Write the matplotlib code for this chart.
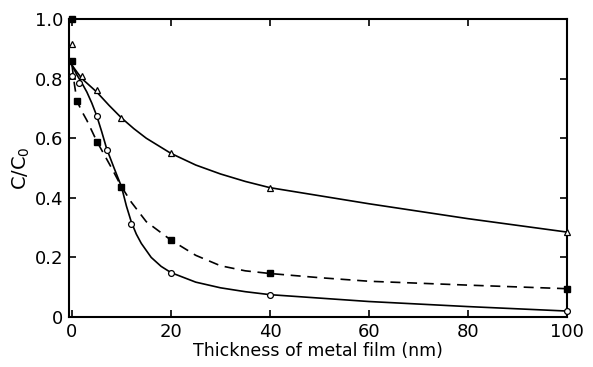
import matplotlib
matplotlib.use("Agg")
import matplotlib.pyplot as plt

tri_x = [0, 2, 5, 10, 20, 40, 100]
tri_y = [0.915, 0.81, 0.763, 0.668, 0.549, 0.434, 0.285]

circ_x = [0, 1.5, 5, 7, 12, 20, 40, 100]
circ_y = [0.81, 0.786, 0.675, 0.559, 0.312, 0.149, 0.075, 0.02]

sq_x = [0, 0, 1, 5, 10, 20, 40, 100]
sq_y = [1.0, 0.86, 0.725, 0.586, 0.437, 0.26, 0.149, 0.095]

# hand-drawn fit curves (knots)
tri_cx = [0, 1, 2, 3, 5, 7.5, 10, 12.5, 15, 20, 25, 30, 35, 40, 60, 80, 100]
tri_cy = [0.845, 0.822, 0.80, 0.785, 0.755, 0.71, 0.668, 0.632, 0.60, 0.549, 0.51, 0.48, 0.455, 0.434, 0.38, 0.33, 0.285]

circ_cx = [0, 1, 2, 3, 4, 5, 6, 7, 8.5, 10, 11, 12, 13, 14, 16, 18, 20, 25, 30, 35, 40, 60, 80, 100]
circ_cy = [0.845, 0.812, 0.785, 0.755, 0.718, 0.675, 0.622, 0.565, 0.50, 0.437, 0.372, 0.318, 0.278, 0.247, 0.20, 0.17, 0.149, 0.117, 0.098, 0.085, 0.075, 0.052, 0.035, 0.02]

sq_cx = [0, 0.5, 1, 2, 3, 5, 8, 10, 12, 15, 20, 25, 30, 35, 40, 50, 60, 80, 100]
sq_cy = [0.845, 0.78, 0.725, 0.69, 0.66, 0.59, 0.50, 0.437, 0.385, 0.32, 0.258, 0.207, 0.172, 0.155, 0.146, 0.132, 0.12, 0.107, 0.095]

fig = plt.figure(figsize=(5.93, 3.67), dpi=100)
ax = fig.add_axes([0.1164, 0.1362, 0.8398, 0.812])

lw = 1.2
ax.plot(tri_cx, tri_cy, color="black", lw=lw)
ax.plot(circ_cx, circ_cy, color="black", lw=lw)
ax.plot(sq_cx, sq_cy, color="black", lw=lw, ls=(0, (6, 4)))

ax.plot(tri_x, tri_y, ls="none", marker="^", ms=5, mfc="white", mec="black", mew=0.9, clip_on=False, zorder=3)
ax.plot(circ_x, circ_y, ls="none", marker="o", ms=4.2, mfc="white", mec="black", mew=0.9, clip_on=False, zorder=3)
ax.plot(sq_x, sq_y, ls="none", marker="s", ms=5, mfc="black", mec="black", clip_on=False, zorder=3)

ax.set_xlim(-0.6, 100)
ax.set_ylim(0, 1.0)
ax.set_xticks([0, 20, 40, 60, 80, 100])
ax.set_yticks([0, 0.2, 0.4, 0.6, 0.8, 1.0])
ax.set_yticklabels(["0", "0.2", "0.4", "0.6", "0.8", "1.0"])
ax.tick_params(direction="in", length=5, width=1.2, labelsize=13,
               top=True, right=True, pad=4)
for s in ax.spines.values():
    s.set_linewidth(1.5)

ax.set_xlabel("Thickness of metal film (nm)", fontsize=12.5, labelpad=1)
ax.set_ylabel("C/C$_0$", fontsize=14, labelpad=2)

fig.savefig("out.png", dpi=100)
